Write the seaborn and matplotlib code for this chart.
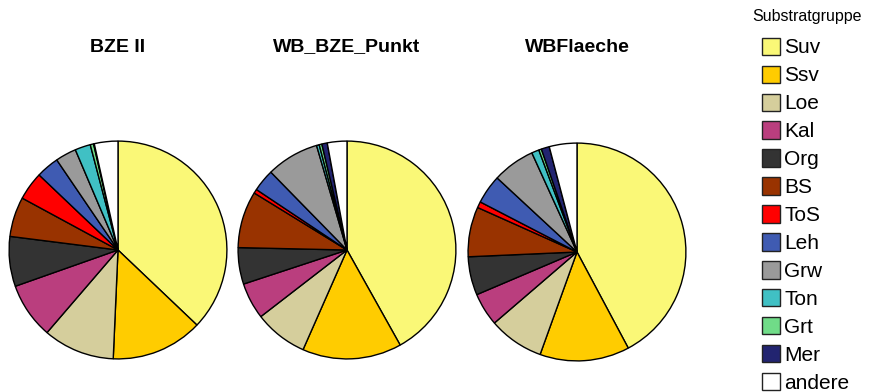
import matplotlib
matplotlib.use("Agg")
import matplotlib.pyplot as plt
import matplotlib.patches as mpatches
import seaborn as sns

sns.set_theme(style="white")
plt.rcParams['font.family'] = ['Liberation Sans', 'DejaVu Sans']
plt.rcParams['text.color'] = 'black'

# data (share of area per substrate group, in %)
groups = ['Suv', 'Ssv', 'Loe', 'Kal', 'Org', 'BS', 'ToS', 'Leh', 'Grw', 'Ton', 'Grt', 'Mer', 'andere']
colors = ['#FAF877', '#FFCC00', '#D5CE9C', '#BA3E7E', '#333333', '#993300', '#FF0000',
          '#3F5BB2', '#9A9A9A', '#40C0C4', '#70DC88', '#222470', '#FFFFFF']
titles = ['BZE II', 'WB_BZE_Punkt', 'WBFlaeche']
bze2 = [37.1, 13.6, 10.6, 8.3, 7.4, 5.9, 4.2, 3.4, 3.1, 2.3, 0.5, 0.1, 3.5]
wb_bze_punkt = [41.8, 14.7, 7.9, 5.4, 5.4, 8.4, 0.6, 3.3, 7.8, 0.4, 0.4, 0.8, 2.9]
wbflaeche = [42.2, 13.3, 8.2, 4.9, 5.7, 7.4, 0.9, 4.3, 6.3, 1.1, 0.4, 1.2, 4.1]

W, H = 869, 392
fig = plt.figure(figsize=(W / 100, H / 100), dpi=100)

# pie centres in pixels, radius 110 px
centres = [(118, 250), (347, 250), (577, 252)]
r = 110
for vals, title, (cx, cy) in zip([bze2, wb_bze_punkt, wbflaeche], titles, centres):
    ax = fig.add_axes([(cx - r) / W, (H - cy - r) / H, 2 * r / W, 2 * r / H])
    ax.pie(vals, colors=colors, startangle=90, counterclock=False,
           wedgeprops=dict(edgecolor='black', linewidth=1.0))
    ax.set_xlim(-1.01, 1.01)
    ax.set_ylim(-1.01, 1.01)
    ax.set_aspect('equal')
    ax.axis('off')
    fig.text(cx / W, 1 - 47 / H, title, ha='center', va='center',
             fontsize=14, fontweight='bold', color='black')

# legend title
fig.text(807 / W, 1 - 17 / H, 'Substratgruppe', ha='center', va='center',
         fontsize=11.5, color='black')

handles = [mpatches.Patch(facecolor=c, edgecolor='#222222', linewidth=1.0, label=g)
           for g, c in zip(groups, colors)]
leg = fig.legend(handles=handles, loc='upper left',
                 bbox_to_anchor=(747 / W, 1 - 23 / H), frameon=False,
                 fontsize=15, handlelength=0.9, handleheight=0.9,
                 handletextpad=0.2, labelspacing=0.39, borderpad=0.2,
                 labelcolor='black')

fig.savefig('out.png', dpi=100, facecolor='white')
